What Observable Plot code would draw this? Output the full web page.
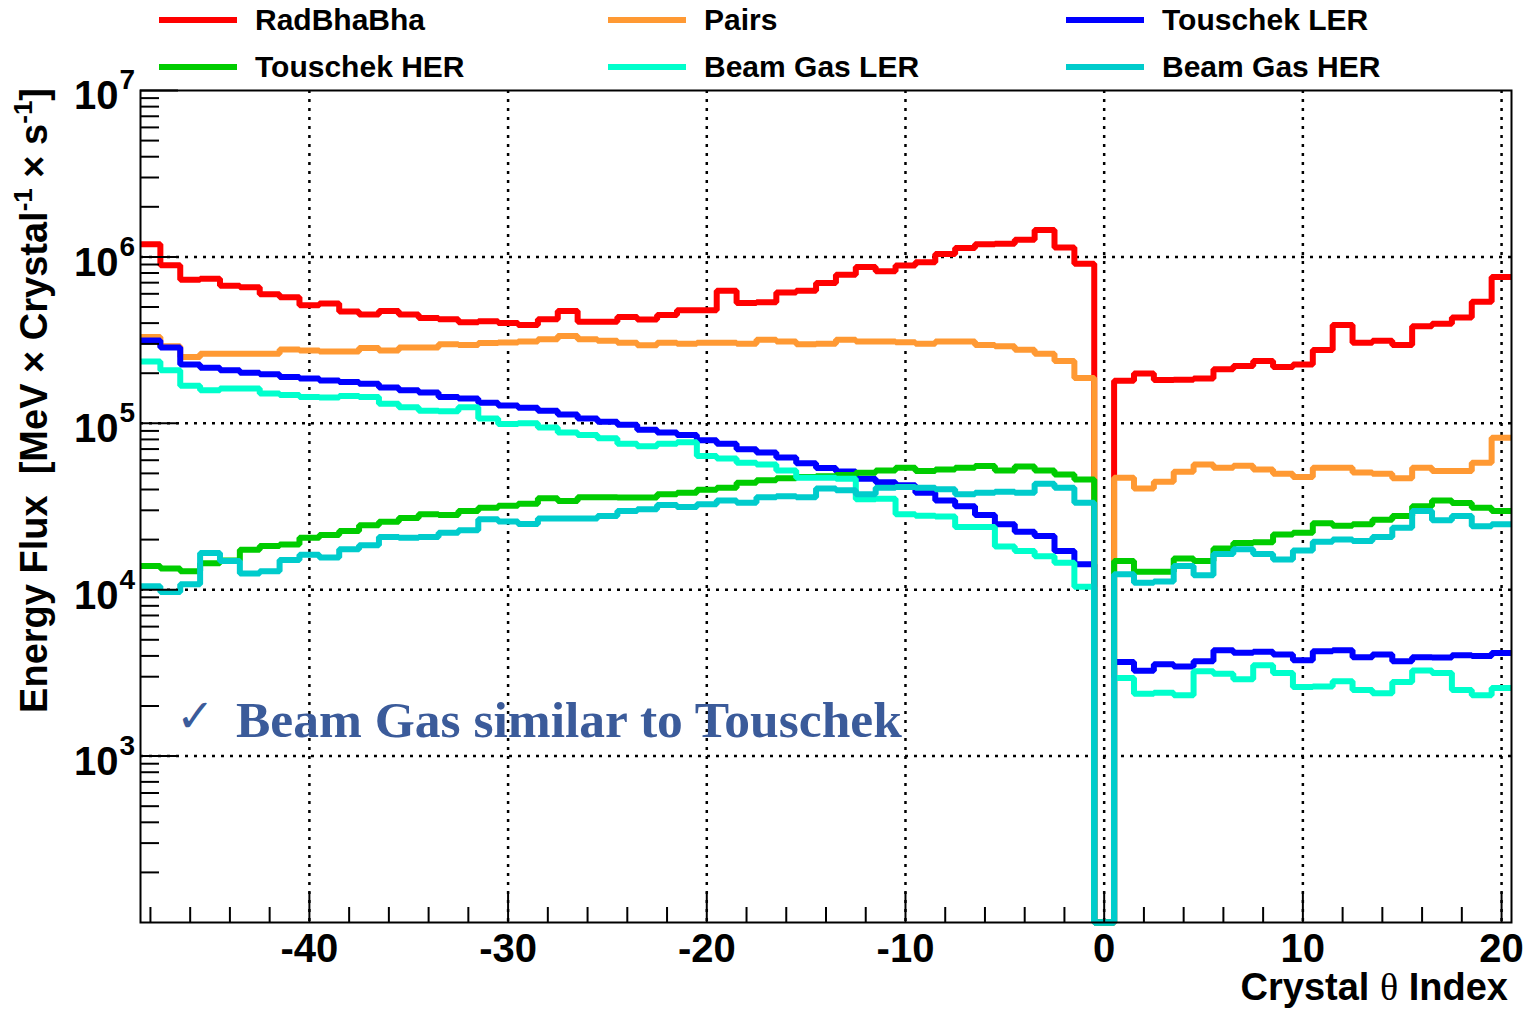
<!DOCTYPE html>
<html>
<head>
<meta charset="utf-8">
<script src="https://cdn.jsdelivr.net/npm/d3@7"></script>
<script src="https://cdn.jsdelivr.net/npm/@observablehq/plot@0.6"></script>
<style>
  body { margin: 0; background: #fff; }
  #wrap { position: relative; width: 1527px; height: 1015px; font-family: "Liberation Sans", Arial, sans-serif; }
  #wrap svg { position: absolute; left: 0; top: 0; }
  .leg { position: absolute; display: flex; align-items: center; height: 30px; line-height: 30px; font-size: 30px; font-weight: bold; color: #000; white-space: nowrap; }
  .leg .sw { display: inline-block; width: 78px; height: 6px; margin-right: 18px; }
</style>
</head>
<body>
<div id="wrap"></div>
<script>
// ---------------- data ----------------
const crystalIndex = [-48,-47,-46,-45,-44,-43,-42,-41,-40,-39,-38,-37,-36,-35,-34,-33,-32,-31,-30,-29,
  -28,-27,-26,-25,-24,-23,-22,-21,-20,-19,-18,-17,-16,-15,-14,-13,-12,-11,-10,-9,-8,-7,-6,-5,-4,-3,-2,-1,
  0,1,2,3,4,5,6,7,8,9,10,11,12,13,14,15,16,17,18,19,20];

const radBhaBha = [1.19e6,8.9e5,7.28e5,7.4e5,6.7e5,6.57e5,5.97e5,5.72e5,5.12e5,5.24e5,4.69e5,4.5e5,4.73e5,4.5e5,4.3e5,4.22e5,4.05e5,4.1e5,4.0e5,3.9e5,
  4.22e5,4.73e5,4.08e5,4.08e5,4.36e5,4.2e5,4.48e5,4.78e5,4.78e5,6.25e5,5.29e5,5.34e5,6.1e5,6.25e5,6.98e5,7.8e5,8.7e5,8.2e5,8.87e5,9.29e5,1.04e6,1.13e6,1.19e6,1.2e6,1.27e6,1.45e6,1.14e6,9.1e5,
  0,1.8e5,1.99e5,1.82e5,1.83e5,1.86e5,2.11e5,2.21e5,2.37e5,2.18e5,2.26e5,2.76e5,3.9e5,3.05e5,3.13e5,2.96e5,3.83e5,3.97e5,4.32e5,5.38e5,7.58e5];

const pairs = [3.3e5,2.9e5,2.5e5,2.62e5,2.62e5,2.62e5,2.62e5,2.78e5,2.74e5,2.7e5,2.7e5,2.83e5,2.74e5,2.85e5,2.85e5,2.99e5,2.95e5,3.04e5,3.06e5,3.1e5,
  3.2e5,3.35e5,3.2e5,3.13e5,3.05e5,2.94e5,3.05e5,3.01e5,3.05e5,3.05e5,3.01e5,3.18e5,3.1e5,2.99e5,3.01e5,3.18e5,3.1e5,3.1e5,3.07e5,3.01e5,3.1e5,3.1e5,2.96e5,2.9e5,2.77e5,2.62e5,2.37e5,1.87e5,
  0,4.71e4,4.06e4,4.46e4,5.12e4,5.66e4,5.41e4,5.56e4,5.28e4,4.98e4,4.75e4,5.41e4,5.41e4,5.07e4,4.98e4,4.67e4,5.41e4,5.16e4,5.16e4,5.79e4,8.19e4];

const touschekLER = [3.15e5,2.85e5,2.26e5,2.16e5,2.08e5,2.01e5,1.97e5,1.9e5,1.86e5,1.81e5,1.77e5,1.73e5,1.64e5,1.58e5,1.53e5,1.44e5,1.41e5,1.33e5,1.28e5,1.24e5,
  1.19e5,1.13e5,1.07e5,1.02e5,9.8e4,9.15e4,8.8e4,8.5e4,7.9e4,7.54e4,6.99e4,6.68e4,6.23e4,5.75e4,5.38e4,5.14e4,4.65e4,4.42e4,4.25e4,3.83e4,3.44e4,3.17e4,2.81e4,2.47e4,2.23e4,2.1e4,1.71e4,1.42e4,
  0,3.68e3,3.26e3,3.56e3,3.46e3,3.72e3,4.32e3,4.18e3,4.24e3,4.08e3,3.77e3,4.27e3,4.32e3,3.93e3,4.08e3,3.72e3,3.93e3,3.91e3,4.04e3,3.99e3,4.16e3];

const touschekHER = [1.39e4,1.34e4,1.29e4,1.44e4,1.5e4,1.74e4,1.83e4,1.87e4,2.05e4,2.13e4,2.25e4,2.44e4,2.56e4,2.7e4,2.84e4,2.81e4,2.97e4,3.11e4,3.2e4,3.29e4,
  3.54e4,3.41e4,3.6e4,3.6e4,3.58e4,3.58e4,3.74e4,3.83e4,3.99e4,4.1e4,4.4e4,4.54e4,4.67e4,4.75e4,4.8e4,4.89e4,5.05e4,5.2e4,5.41e4,5.16e4,5.28e4,5.41e4,5.54e4,5.2e4,5.5e4,5.2e4,4.93e4,4.6e4,
  0,1.49e4,1.28e4,1.28e4,1.54e4,1.49e4,1.77e4,1.91e4,1.93e4,2.15e4,2.2e4,2.51e4,2.42e4,2.47e4,2.63e4,2.77e4,3.17e4,3.44e4,3.32e4,3.11e4,2.97e4];

const beamGasLER = [2.35e5,2.08e5,1.68e5,1.58e5,1.62e5,1.62e5,1.51e5,1.48e5,1.44e5,1.43e5,1.46e5,1.44e5,1.31e5,1.25e5,1.19e5,1.18e5,1.25e5,1.07e5,9.9e4,1.0e5,
  9.42e4,8.8e4,8.51e4,8.13e4,7.54e4,7.28e4,7.54e4,7.69e4,6.35e4,6.15e4,5.79e4,5.66e4,5.21e4,4.71e4,4.71e4,4.65e4,3.49e4,3.52e4,2.84e4,2.78e4,2.75e4,2.38e4,2.38e4,1.82e4,1.71e4,1.59e4,1.45e4,1.04e4,
  0,2.95e3,2.37e3,2.4e3,2.32e3,3.24e3,3.12e3,2.9e3,3.51e3,3.16e3,2.6e3,2.62e3,2.82e3,2.5e3,2.39e3,2.79e3,3.27e3,3.16e3,2.5e3,2.32e3,2.57e3];

const beamGasHER = [1.05e4,9.7e3,1.08e4,1.66e4,1.49e4,1.25e4,1.29e4,1.51e4,1.62e4,1.56e4,1.75e4,1.85e4,2.07e4,2.05e4,2.07e4,2.2e4,2.28e4,2.65e4,2.57e4,2.48e4,
  2.68e4,2.68e4,2.68e4,2.77e4,2.97e4,3.04e4,3.23e4,3.14e4,3.26e4,3.44e4,3.33e4,3.6e4,3.65e4,3.6e4,4.06e4,3.96e4,3.74e4,4.1e4,4.14e4,4.1e4,4.01e4,3.74e4,3.83e4,3.88e4,3.83e4,4.33e4,4.1e4,3.33e4,
  0,1.24e4,1.1e4,1.12e4,1.39e4,1.22e4,1.64e4,1.75e4,1.64e4,1.52e4,1.72e4,1.94e4,2.0e4,1.96e4,2.07e4,2.36e4,2.97e4,2.61e4,2.77e4,2.41e4,2.47e4];

const seriesNames = ["RadBhaBha", "Pairs", "Touschek LER", "Touschek HER", "Beam Gas LER", "Beam Gas HER"];
const seriesColors = ["#ff0000", "#ff9933", "#0000ff", "#00cc00", "#00ffcc", "#00cccc"];
const seriesValues = [radBhaBha, pairs, touschekLER, touschekHER, beamGasLER, beamGasHER];

const xMajorTicks = [-40, -30, -20, -10, 0, 10, 20];
const xMinorTicks = [-48,-46,-44,-42,-38,-36,-34,-32,-28,-26,-24,-22,-18,-16,-14,-12,-8,-6,-4,-2,2,4,6,8,12,14,16,18];
const yMajorTicks = [1e3, 1e4, 1e5, 1e6, 1e7];
const yGridLines = [1e3, 1e4, 1e5, 1e6];
const yMinorTicks = [];
[1e2, 1e3, 1e4, 1e5, 1e6].forEach(d => [2,3,4,5,6,7,8,9].forEach(k => yMinorTicks.push(k * d)));
const xDomain = [-48.5, 20.5];
const yDomain = [1e2, 1e7];

// ---------------- layout ----------------
const W = 1527, H = 1015;
const mL = 140, mR = 16, mT = 90, mB = 93;
const innerW = W - mL - mR, innerH = H - mT - mB;

// histogram outline table (bin edges at index +/- 0.5)
const rows = [];
seriesNames.forEach((name, s) => {
  seriesValues[s].forEach((v, i) => {
    const yv = Math.max(v, yDomain[0]);
    rows.push({series: name, x: crystalIndex[i] - 0.5, y: yv});
    rows.push({series: name, x: crystalIndex[i] + 0.5, y: yv});
  });
});

const svg = Plot.plot({
  width: W, height: H,
  marginLeft: mL, marginRight: mR, marginTop: mT, marginBottom: mB,
  style: {fontFamily: "'Liberation Sans', Arial, sans-serif", background: "white", overflow: "visible"},
  x: {domain: xDomain, axis: null},
  y: {type: "log", domain: yDomain, axis: null},
  color: {domain: seriesNames, range: seriesColors},
  marks: [
    Plot.ruleX(xMajorTicks, {x: d => d, stroke: "#000", strokeWidth: 2.5, strokeDasharray: "3,6"}),
    Plot.ruleY(yGridLines, {y: d => d, stroke: "#000", strokeWidth: 2.5, strokeDasharray: "3,6"}),
    Plot.line(rows, {x: "x", y: "y", z: "series", stroke: "series", strokeWidth: 6,
      strokeLinejoin: "miter", strokeLinecap: "butt", curve: "linear"}),
    Plot.tickX(xMinorTicks, {x: d => d, insetTop: innerH - 15, stroke: "#000", strokeWidth: 2}),
    Plot.tickX(xMajorTicks, {x: d => d, insetTop: innerH - 30, stroke: "#000", strokeWidth: 2}),
    Plot.tickY(yMinorTicks, {y: d => d, insetRight: innerW - 19, stroke: "#000", strokeWidth: 2}),
    Plot.tickY(yMajorTicks, {y: d => d, insetRight: innerW - 38, stroke: "#000", strokeWidth: 2}),
    Plot.frame({stroke: "#000", strokeWidth: 2}),
    Plot.text(xMajorTicks, {x: d => d, text: d => String(d), frameAnchor: "bottom", lineAnchor: "middle", dy: 27,
      fontSize: 40, fontWeight: "bold", fill: "#000"}),
    Plot.text(yMajorTicks, {y: d => d, text: () => "10", frameAnchor: "left", textAnchor: "end",
      dx: -22, dy: 6, fontSize: 40, fontWeight: "bold", fill: "#000"}),
    Plot.text(yMajorTicks, {y: d => d, text: d => String(Math.round(Math.log10(d))), frameAnchor: "left",
      textAnchor: "start", dx: -21, dy: -10, fontSize: 28, fontWeight: "bold", fill: "#000"})
  ]
});

const wrap = document.getElementById("wrap");
wrap.appendChild(svg);
const g = d3.select(svg);

// y axis title
const yt = g.append("text")
  .attr("transform", "translate(47,88) rotate(-90)")
  .attr("text-anchor", "end")
  .attr("font-size", 38).attr("font-weight", "bold").attr("fill", "#000");
yt.append("tspan").text("Energy Flux  [MeV \u00d7 Crystal");
yt.append("tspan").attr("dy", -15).attr("font-size", 26).text("-1");
yt.append("tspan").attr("dy", 15).text(" \u00d7 s");
yt.append("tspan").attr("dy", -15).attr("font-size", 26).text("-1");
yt.append("tspan").attr("dy", 15).text("]");

// x axis title
const xt = g.append("text")
  .attr("x", 1508).attr("y", 1000)
  .attr("text-anchor", "end")
  .attr("font-size", 38).attr("font-weight", "bold").attr("fill", "#000");
xt.append("tspan").text("Crystal ");
xt.append("tspan").attr("font-family", "'Liberation Serif', serif").attr("font-weight", "normal").text("\u03b8");
xt.append("tspan").text(" Index");

// annotation
g.append("text").attr("x", 176).attr("y", 732)
  .attr("text-anchor", "start")
  .attr("fill", "#3b5b9a").attr("font-family", "'DejaVu Sans', sans-serif")
  .attr("font-weight", "bold").attr("font-size", 46).text("\u2713");
g.append("text").attr("x", 236).attr("y", 737)
  .attr("text-anchor", "start")
  .attr("fill", "#3b5b9a").attr("font-family", "'Liberation Serif', 'DejaVu Serif', serif")
  .attr("font-weight", "bold").attr("font-size", 51.5).text("Beam Gas similar to Touschek");

// legend (HTML, above the frame)
const legCols = [159, 608, 1066];
const legRows = [4.5, 51.5];
seriesNames.forEach((name, i) => {
  const d = document.createElement("div");
  d.className = "leg";
  d.style.left = legCols[i % 3] + "px";
  d.style.top = legRows[Math.floor(i / 3)] + "px";
  const sw = document.createElement("span");
  sw.className = "sw";
  sw.style.background = seriesColors[i];
  d.appendChild(sw);
  d.appendChild(document.createTextNode(name));
  wrap.appendChild(d);
});
</script>
</body>
</html>
